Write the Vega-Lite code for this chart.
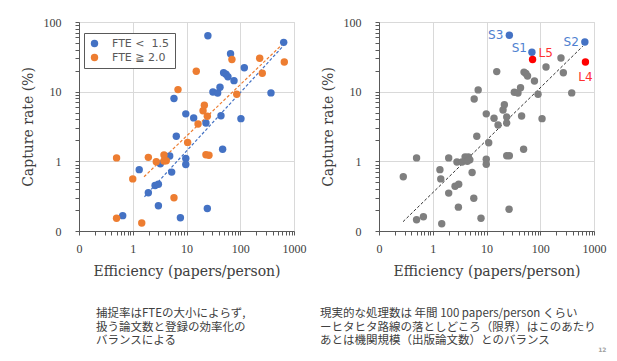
{
  "$schema": "https://vega.github.io/schema/vega-lite/v6.json",
  "background": "white",
  "padding": {"left": 20, "top": 15, "right": 10, "bottom": 4},
  "bounds": "flush",
  "spacing": 85,
  "resolve": {"scale": {"color": "independent"}, "legend": {"color": "independent"}},
  "config": {
    "view": {"stroke": "#D9D9D9", "strokeWidth": 1},
    "axis": {
      "domainColor": "#595959", "tickColor": "#595959", "tickSize": 4,
      "labelFont": "Liberation Serif", "labelFontSize": 12, "labelColor": "#404040",
      "titleFont": "DejaVu Serif", "titleFontSize": 14, "titleFontWeight": "normal", "titleColor": "#404040",
      "gridColor": "#D9D9D9", "labelFlush": false, "labelOverlap": false
    }
  },
  "datasets": {
    "left": [
      {"x": 0.65, "y": 0.166, "g": "FTE <\u00a0 1.5"},
      {"x": 1.32, "y": 0.76, "g": "FTE <\u00a0 1.5"},
      {"x": 1.95, "y": 0.355, "g": "FTE <\u00a0 1.5"},
      {"x": 2.6, "y": 0.45, "g": "FTE <\u00a0 1.5"},
      {"x": 3.0, "y": 0.47, "g": "FTE <\u00a0 1.5"},
      {"x": 3.0, "y": 0.23, "g": "FTE <\u00a0 1.5"},
      {"x": 3.26, "y": 0.92, "g": "FTE <\u00a0 1.5"},
      {"x": 4.87, "y": 1.19, "g": "FTE <\u00a0 1.5"},
      {"x": 5.3, "y": 0.7, "g": "FTE <\u00a0 1.5"},
      {"x": 5.85, "y": 8.0, "g": "FTE <\u00a0 1.5"},
      {"x": 6.46, "y": 2.29, "g": "FTE <\u00a0 1.5"},
      {"x": 7.7, "y": 0.155, "g": "FTE <\u00a0 1.5"},
      {"x": 9.7, "y": 4.8, "g": "FTE <\u00a0 1.5"},
      {"x": 9.7, "y": 1.1, "g": "FTE <\u00a0 1.5"},
      {"x": 9.7, "y": 0.9, "g": "FTE <\u00a0 1.5"},
      {"x": 13.6, "y": 4.2, "g": "FTE <\u00a0 1.5"},
      {"x": 23, "y": 3.55, "g": "FTE <\u00a0 1.5"},
      {"x": 25, "y": 63.5, "g": "FTE <\u00a0 1.5"},
      {"x": 24.4, "y": 0.21, "g": "FTE <\u00a0 1.5"},
      {"x": 31, "y": 9.9, "g": "FTE <\u00a0 1.5"},
      {"x": 38, "y": 9.55, "g": "FTE <\u00a0 1.5"},
      {"x": 42, "y": 11.6, "g": "FTE <\u00a0 1.5"},
      {"x": 43.8, "y": 4.5, "g": "FTE <\u00a0 1.5"},
      {"x": 47, "y": 1.49, "g": "FTE <\u00a0 1.5"},
      {"x": 49, "y": 18.7, "g": "FTE <\u00a0 1.5"},
      {"x": 54.3, "y": 17.8, "g": "FTE <\u00a0 1.5"},
      {"x": 59, "y": 16.4, "g": "FTE <\u00a0 1.5"},
      {"x": 66, "y": 35, "g": "FTE <\u00a0 1.5"},
      {"x": 76.5, "y": 14.4, "g": "FTE <\u00a0 1.5"},
      {"x": 103, "y": 4.1, "g": "FTE <\u00a0 1.5"},
      {"x": 119, "y": 22.1, "g": "FTE <\u00a0 1.5"},
      {"x": 373, "y": 9.6, "g": "FTE <\u00a0 1.5"},
      {"x": 643, "y": 51, "g": "FTE <\u00a0 1.5"},
      {"x": 0.5, "y": 1.12, "g": "FTE ≧ 2.0"},
      {"x": 0.5, "y": 0.152, "g": "FTE ≧ 2.0"},
      {"x": 1.0, "y": 0.56, "g": "FTE ≧ 2.0"},
      {"x": 1.47, "y": 0.13, "g": "FTE ≧ 2.0"},
      {"x": 1.95, "y": 1.14, "g": "FTE ≧ 2.0"},
      {"x": 2.74, "y": 0.99, "g": "FTE ≧ 2.0"},
      {"x": 3.81, "y": 1.23, "g": "FTE ≧ 2.0"},
      {"x": 4.2, "y": 1.02, "g": "FTE ≧ 2.0"},
      {"x": 3.8, "y": 1.01, "g": "FTE ≧ 2.0"},
      {"x": 5.85, "y": 0.3, "g": "FTE ≧ 2.0"},
      {"x": 6.95, "y": 10.7, "g": "FTE ≧ 2.0"},
      {"x": 10.5, "y": 1.87, "g": "FTE ≧ 2.0"},
      {"x": 15.2, "y": 19.6, "g": "FTE ≧ 2.0"},
      {"x": 16.4, "y": 3.43, "g": "FTE ≧ 2.0"},
      {"x": 20.3, "y": 5.33, "g": "FTE ≧ 2.0"},
      {"x": 21.5, "y": 6.37, "g": "FTE ≧ 2.0"},
      {"x": 24.4, "y": 4.43, "g": "FTE ≧ 2.0"},
      {"x": 23, "y": 1.24, "g": "FTE ≧ 2.0"},
      {"x": 26.2, "y": 1.22, "g": "FTE ≧ 2.0"},
      {"x": 70, "y": 29, "g": "FTE ≧ 2.0"},
      {"x": 86, "y": 9.2, "g": "FTE ≧ 2.0"},
      {"x": 230, "y": 30.1, "g": "FTE ≧ 2.0"},
      {"x": 257, "y": 18.4, "g": "FTE ≧ 2.0"},
      {"x": 660, "y": 26.7, "g": "FTE ≧ 2.0"}
    ],
    "leftFit": [
      {"x": 1.65, "y": 0.31, "g": "FTE <\u00a0 1.5"},
      {"x": 650, "y": 46.5, "g": "FTE <\u00a0 1.5"},
      {"x": 1.62, "y": 0.6, "g": "FTE ≧ 2.0"},
      {"x": 620, "y": 48.5, "g": "FTE ≧ 2.0"}
    ],
    "right": [
      {"x": 0.283, "y": 0.6, "k": "o", "lab": ""},
      {"x": 0.5, "y": 1.12, "k": "o", "lab": ""},
      {"x": 0.5, "y": 0.145, "k": "o", "lab": ""},
      {"x": 0.67, "y": 0.16, "k": "o", "lab": ""},
      {"x": 1.36, "y": 0.76, "k": "o", "lab": ""},
      {"x": 1.41, "y": 0.56, "k": "o", "lab": ""},
      {"x": 1.47, "y": 0.127, "k": "o", "lab": ""},
      {"x": 1.98, "y": 0.35, "k": "o", "lab": ""},
      {"x": 1.98, "y": 1.12, "k": "o", "lab": ""},
      {"x": 2.82, "y": 0.98, "k": "o", "lab": ""},
      {"x": 2.6, "y": 0.44, "k": "o", "lab": ""},
      {"x": 3.04, "y": 0.47, "k": "o", "lab": ""},
      {"x": 3.0, "y": 0.22, "k": "o", "lab": ""},
      {"x": 3.5, "y": 0.98, "k": "o", "lab": ""},
      {"x": 4.0, "y": 1.16, "k": "o", "lab": ""},
      {"x": 4.6, "y": 1.16, "k": "o", "lab": ""},
      {"x": 4.9, "y": 1.05, "k": "o", "lab": ""},
      {"x": 4.4, "y": 1.0, "k": "o", "lab": ""},
      {"x": 5.4, "y": 0.69, "k": "o", "lab": ""},
      {"x": 5.8, "y": 0.295, "k": "o", "lab": ""},
      {"x": 5.9, "y": 7.85, "k": "o", "lab": ""},
      {"x": 6.6, "y": 2.29, "k": "o", "lab": ""},
      {"x": 7.0, "y": 10.6, "k": "o", "lab": ""},
      {"x": 7.9, "y": 0.152, "k": "o", "lab": ""},
      {"x": 9.9, "y": 4.8, "k": "o", "lab": ""},
      {"x": 9.9, "y": 1.07, "k": "o", "lab": ""},
      {"x": 9.9, "y": 0.91, "k": "o", "lab": ""},
      {"x": 11, "y": 1.85, "k": "o", "lab": ""},
      {"x": 13.8, "y": 4.15, "k": "o", "lab": ""},
      {"x": 15.5, "y": 19.4, "k": "o", "lab": ""},
      {"x": 16.4, "y": 3.32, "k": "o", "lab": ""},
      {"x": 20.3, "y": 5.46, "k": "o", "lab": ""},
      {"x": 21.5, "y": 6.5, "k": "o", "lab": ""},
      {"x": 23.8, "y": 4.33, "k": "o", "lab": ""},
      {"x": 23.8, "y": 3.55, "k": "o", "lab": ""},
      {"x": 23.8, "y": 1.2, "k": "o", "lab": ""},
      {"x": 26.6, "y": 1.2, "k": "o", "lab": ""},
      {"x": 26.3, "y": 0.205, "k": "o", "lab": ""},
      {"x": 32.9, "y": 9.8, "k": "o", "lab": ""},
      {"x": 38.5, "y": 9.55, "k": "o", "lab": ""},
      {"x": 43, "y": 11.4, "k": "o", "lab": ""},
      {"x": 45, "y": 4.47, "k": "o", "lab": ""},
      {"x": 49, "y": 1.49, "k": "o", "lab": ""},
      {"x": 49.9, "y": 19.1, "k": "o", "lab": ""},
      {"x": 54, "y": 18.3, "k": "o", "lab": ""},
      {"x": 58, "y": 16.8, "k": "o", "lab": ""},
      {"x": 78, "y": 14.2, "k": "o", "lab": ""},
      {"x": 91, "y": 9.2, "k": "o", "lab": ""},
      {"x": 108, "y": 4.1, "k": "o", "lab": ""},
      {"x": 128, "y": 22.6, "k": "o", "lab": ""},
      {"x": 243, "y": 30.4, "k": "o", "lab": ""},
      {"x": 269, "y": 18.7, "k": "o", "lab": ""},
      {"x": 385, "y": 9.6, "k": "o", "lab": ""},
      {"x": 26.6, "y": 64.6, "k": "S", "lab": "S3"},
      {"x": 70, "y": 36.7, "k": "S", "lab": "S1"},
      {"x": 676, "y": 51.7, "k": "S", "lab": "S2"},
      {"x": 72, "y": 29, "k": "L", "lab": "L5"},
      {"x": 693, "y": 26.7, "k": "L", "lab": "L4"}
    ],
    "rightFit": [
      {"x": 0.28, "y": 0.136},
      {"x": 620, "y": 45}
    ]
  },
  "title": {"text": "12", "orient": "bottom", "anchor": "end", "fontSize": 6, "color": "#A0A0A0", "font": "DejaVu Sans", "offset": 0},
  "hconcat": [
    {
      "width": 215, "height": 209,
      "title": {
        "text": ["捕捉率はFTEの大小によらず,", "扱う論文数と登録の効率化の", "バランスによる"],
        "orient": "bottom", "anchor": "start", "frame": "group", "dx": 17, "offset": 30,
        "font": "Noto Sans CJK JP", "fontSize": 11.5, "fontWeight": "normal", "color": "#404040", "lineHeight": 13.5
      },
      "layer": [
        {
          "data": {"name": "leftFit"},
          "mark": {"type": "line", "strokeDash": [3, 2], "strokeWidth": 1.2},
          "encoding": {
            "x": {"field": "x", "type": "quantitative"},
            "y": {"field": "y", "type": "quantitative"},
            "color": {"field": "g", "type": "nominal"}
          }
        },
        {
          "data": {"name": "left"},
          "mark": {"type": "point", "filled": true, "opacity": 1, "size": 55, "shape": "circle"},
          "encoding": {
            "x": {
              "field": "x", "type": "quantitative",
              "scale": {"type": "log", "domain": [0.1, 1000], "nice": false},
              "axis": {
                "title": "Efficiency (papers/person)", "titlePadding": 10,
                "values": [0.1,0.2,0.3,0.4,0.5,0.6,0.7,0.8,0.9,1,2,3,4,5,6,7,8,9,10,20,30,40,50,60,70,80,90,100,200,300,400,500,600,700,800,900,1000],
                "labelExpr": "datum.value == 0.1 ? '0' : (indexof([1,10,100,1000], datum.value) >= 0 ? format(datum.value, 'd') : '')",
                "gridOpacity": {"condition": {"test": "indexof([0.1,1,10,100,1000], datum.value) >= 0", "value": 1}, "value": 0},
                "labelPadding": 8
              }
            },
            "y": {
              "field": "y", "type": "quantitative",
              "scale": {"type": "log", "domain": [0.1, 100], "nice": false},
              "axis": {
                "title": "Capture rate (%)", "titlePadding": 8,
                "values": [0.1,0.2,0.3,0.4,0.5,0.6,0.7,0.8,0.9,1,2,3,4,5,6,7,8,9,10,20,30,40,50,60,70,80,90,100],
                "labelExpr": "datum.value == 0.1 ? '0' : (indexof([1,10,100], datum.value) >= 0 ? format(datum.value, 'd') : '')",
                "gridOpacity": {"condition": {"test": "indexof([0.1,1,10,100], datum.value) >= 0", "value": 1}, "value": 0},
                "labelPadding": 14
              }
            },
            "color": {
              "field": "g", "type": "nominal",
              "scale": {"domain": ["FTE <\u00a0 1.5", "FTE ≧ 2.0"], "range": ["#4472C4", "#ED7D31"]},
              "legend": {
                "orient": "none", "legendX": 5, "legendY": 11, "title": null,
                "strokeColor": "#595959", "fillColor": "white", "padding": 5,
                "labelFont": "DejaVu Sans", "labelFontSize": 11, "labelColor": "#595959",
                "symbolSize": 55, "symbolType": "circle", "symbolStrokeWidth": 0, "symbolDash": [], "labelOffset": 12, "rowPadding": 2
              }
            }
          }
        }
      ]
    },
    {
      "width": 215, "height": 209,
      "title": {
        "text": ["現実的な処理数は 年間 100 papers/person くらい", "ーヒタヒタ路線の落としどころ（限界）はこのあたり", "\u3000あとは機関規模（出版論文数）とのバランス"],
        "orient": "bottom", "anchor": "start", "frame": "group", "dx": -59, "offset": 30,
        "font": "Noto Sans CJK JP", "fontSize": 11.5, "fontWeight": "normal", "color": "#404040", "lineHeight": 13.5
      },
      "layer": [
        {
          "data": {"name": "rightFit"},
          "mark": {"type": "line", "strokeDash": [3, 2], "strokeWidth": 1, "color": "#333333"},
          "encoding": {
            "x": {"field": "x", "type": "quantitative"},
            "y": {"field": "y", "type": "quantitative"}
          }
        },
        {
          "data": {"name": "right"},
          "mark": {"type": "point", "filled": true, "opacity": 1, "size": 55, "shape": "circle"},
          "encoding": {
            "x": {
              "field": "x", "type": "quantitative",
              "scale": {"type": "log", "domain": [0.1, 1000], "nice": false},
              "axis": {
                "title": "Efficiency (papers/person)", "titlePadding": 10,
                "values": [0.1,0.2,0.3,0.4,0.5,0.6,0.7,0.8,0.9,1,2,3,4,5,6,7,8,9,10,20,30,40,50,60,70,80,90,100,200,300,400,500,600,700,800,900,1000],
                "labelExpr": "datum.value == 0.1 ? '0' : (indexof([1,10,100,1000], datum.value) >= 0 ? format(datum.value, 'd') : '')",
                "gridOpacity": {"condition": {"test": "indexof([0.1,1,10,100,1000], datum.value) >= 0", "value": 1}, "value": 0},
                "labelPadding": 8
              }
            },
            "y": {
              "field": "y", "type": "quantitative",
              "scale": {"type": "log", "domain": [0.1, 100], "nice": false},
              "axis": {
                "title": "Capture rate (%)", "titlePadding": 8,
                "values": [0.1,0.2,0.3,0.4,0.5,0.6,0.7,0.8,0.9,1,2,3,4,5,6,7,8,9,10,20,30,40,50,60,70,80,90,100],
                "labelExpr": "datum.value == 0.1 ? '0' : (indexof([1,10,100], datum.value) >= 0 ? format(datum.value, 'd') : '')",
                "gridOpacity": {"condition": {"test": "indexof([0.1,1,10,100], datum.value) >= 0", "value": 1}, "value": 0},
                "labelPadding": 14
              }
            },
            "color": {
              "field": "k", "type": "nominal",
              "scale": {"domain": ["o", "S", "L"], "range": ["#7F7F7F", "#4472C4", "#FF0000"]},
              "legend": null
            },
            "order": {"field": "k", "type": "nominal", "sort": "descending"}
          }
        },
        {
          "data": {"name": "right"},
          "transform": [{"filter": "datum.lab == 'S3' || datum.lab == 'S2'"}],
          "mark": {"type": "text", "align": "right", "baseline": "middle", "dx": -6, "dy": 0, "font": "DejaVu Sans", "fontSize": 12, "color": "#4F7FD0"},
          "encoding": {"x": {"field": "x", "type": "quantitative"}, "y": {"field": "y", "type": "quantitative"}, "text": {"field": "lab"}}
        },
        {
          "data": {"name": "right"},
          "transform": [{"filter": "datum.lab == 'S1'"}],
          "mark": {"type": "text", "align": "right", "baseline": "middle", "dx": -5, "dy": -4, "font": "DejaVu Sans", "fontSize": 12, "color": "#4F7FD0"},
          "encoding": {"x": {"field": "x", "type": "quantitative"}, "y": {"field": "y", "type": "quantitative"}, "text": {"field": "lab"}}
        },
        {
          "data": {"name": "right"},
          "transform": [{"filter": "datum.lab == 'L5'"}],
          "mark": {"type": "text", "align": "left", "baseline": "middle", "dx": 6, "dy": -6, "font": "DejaVu Sans", "fontSize": 12, "color": "#FF3030"},
          "encoding": {"x": {"field": "x", "type": "quantitative"}, "y": {"field": "y", "type": "quantitative"}, "text": {"field": "lab"}}
        },
        {
          "data": {"name": "right"},
          "transform": [{"filter": "datum.lab == 'L4'"}],
          "mark": {"type": "text", "align": "center", "baseline": "middle", "dx": 0, "dy": 15, "font": "DejaVu Sans", "fontSize": 12, "color": "#FF3030"},
          "encoding": {"x": {"field": "x", "type": "quantitative"}, "y": {"field": "y", "type": "quantitative"}, "text": {"field": "lab"}}
        }
      ]
    }
  ]
}
